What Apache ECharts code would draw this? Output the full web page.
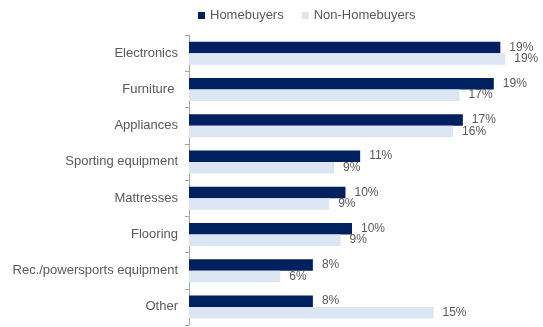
<!DOCTYPE html>
<html>
<head>
<meta charset="utf-8">
<script src="https://cdn.jsdelivr.net/npm/echarts@6/dist/echarts.min.js"></script>
<style>
  html, body { margin: 0; padding: 0; background: #ffffff; }
  #chart { width: 543px; height: 327px; }
</style>
</head>
<body>
<div id="chart"></div>
<script>
// Purchase categories (top to bottom)
const categories = [
  'Electronics', 'Furniture ', 'Appliances', 'Sporting equipment',
  'Mattresses', 'Flooring', 'Rec./powersports equipment', 'Other'
];
// Share of respondents buying in each category (%)
const homebuyers    = [19.1, 18.7, 16.8, 10.5, 9.6, 10.0, 7.6, 7.6];
const nonHomebuyers = [19.4, 16.6, 16.2, 8.9, 8.6, 9.3, 5.6, 15.0];

const FONT = "'Liberation Sans', Arial, sans-serif";
const TEXT = '#595959';

const label = {
  show: true,
  position: 'right',
  distance: 9,
  fontFamily: FONT,
  fontSize: 12,
  color: TEXT,
  formatter: p => Math.round(p.value) + '%'
};

const chart = echarts.init(document.getElementById('chart'), null, { renderer: 'canvas' });
chart.setOption({
  animation: false,
  backgroundColor: '#ffffff',
  legend: {
    top: 4,
    left: 193,
    itemWidth: 7,
    itemHeight: 7,
    itemGap: 18,
    icon: 'rect',
    textStyle: { fontFamily: FONT, fontSize: 13, color: TEXT },
    data: ['Homebuyers', 'Non-Homebuyers']
  },
  grid: { left: 189, right: 28, top: 35, bottom: 2, containLabel: false },
  xAxis: {
    type: 'value',
    min: 0,
    max: 20,
    show: false
  },
  yAxis: {
    type: 'category',
    inverse: true,
    data: categories,
    axisLine: { show: true, lineStyle: { color: '#A6A6A6', width: 1 } },
    axisTick: { show: true, length: 4, lineStyle: { color: '#A6A6A6' } },
    axisLabel: { fontFamily: FONT, fontSize: 13, color: TEXT, margin: 11 }
  },
  series: [
    {
      name: 'Homebuyers',
      type: 'bar',
      data: homebuyers,
      barWidth: 11.5,
      barGap: '0%',
      itemStyle: { color: '#002060' },
      label: label
    },
    {
      name: 'Non-Homebuyers',
      type: 'bar',
      data: nonHomebuyers,
      barWidth: 11.5,
      itemStyle: { color: '#DCE6F2' },
      label: label
    }
  ]
});
</script>
</body>
</html>
